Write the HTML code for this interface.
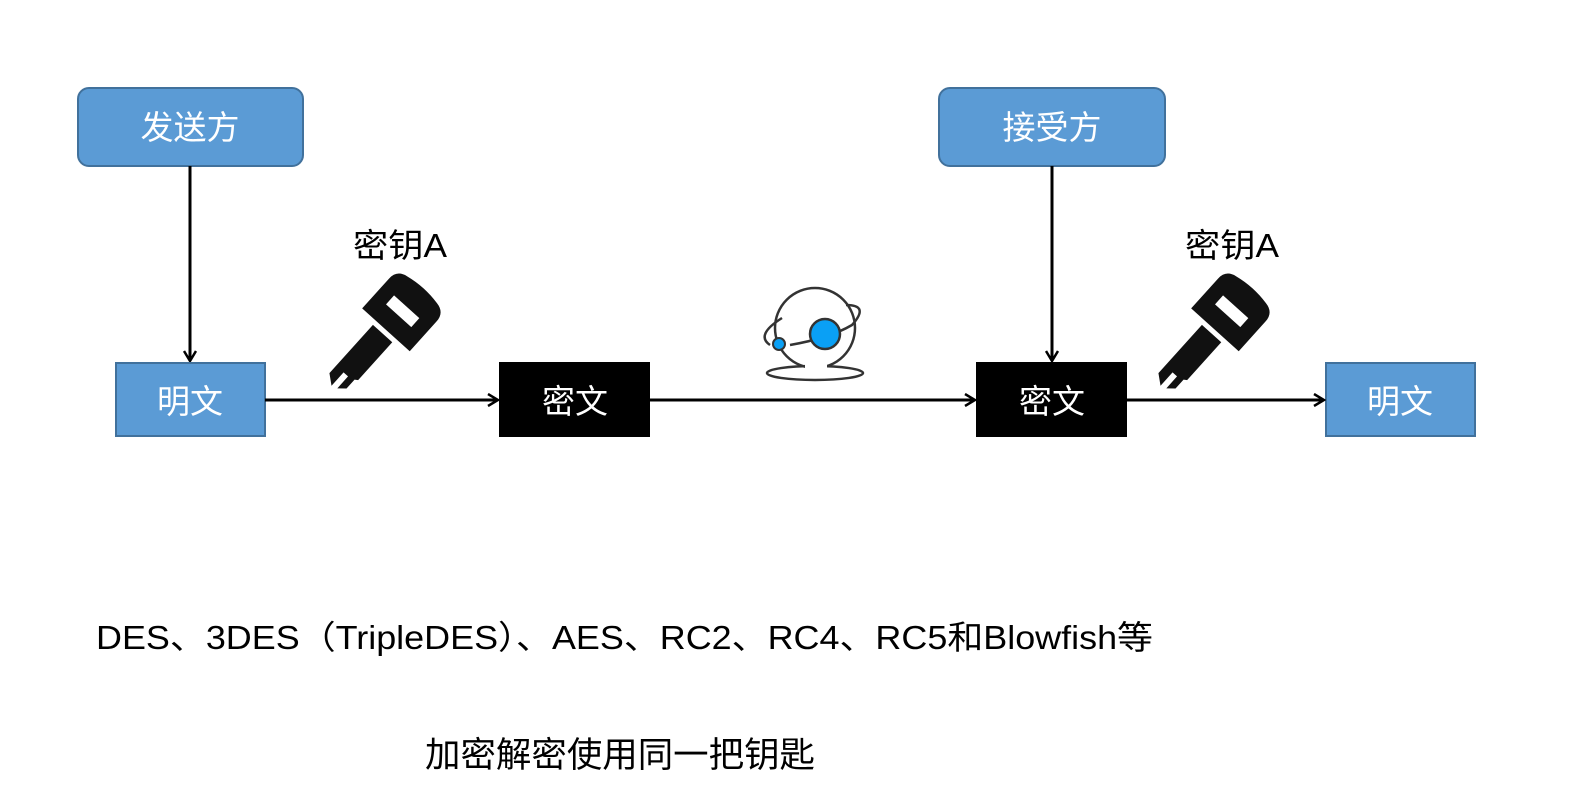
<!DOCTYPE html>
<html><head><meta charset="utf-8"><style>
html,body{margin:0;padding:0;background:#fff;overflow:hidden;width:1587px;height:808px;}
svg{display:block;}
svg text{font-family:"Liberation Sans","Noto Sans CJK SC",sans-serif;}
</style></head><body>
<svg width="1587" height="808" viewBox="0 0 1587 808" xmlns="http://www.w3.org/2000/svg">
<defs>
<g id="key">
  <path d="M-32,24 L-32,-16 Q-32,-28 -20,-30 Q0,-34 20,-30 Q32,-28 32,-16 L32,24 Z" fill="#111"/>
  <rect x="-17" y="-7" width="34" height="12" fill="#fff"/>
  <path d="M-13,29 L13,29 L13,80 L10,82 L10,94 L3,100 L3,84 L-3,84 L-3,102 L-13,94 Z" fill="#111"/>
</g>
<marker id="ah" markerWidth="14" markerHeight="14" refX="12" refY="7" orient="auto" markerUnits="userSpaceOnUse">
  <path d="M2,1 L12,7 L2,13" fill="none" stroke="#000" stroke-width="2.5"/>
</marker>
</defs>

<rect x="78" y="88" width="225" height="78" rx="11" fill="#5b9bd5" stroke="#41719c" stroke-width="2"/>
<text x="190" y="139" font-size="33" fill="#fff" text-anchor="middle">发送方</text>
<rect x="939" y="88" width="226" height="78" rx="11" fill="#5b9bd5" stroke="#41719c" stroke-width="2"/>
<text x="1052" y="139" font-size="33" fill="#fff" text-anchor="middle">接受方</text>

<line x1="190" y1="166" x2="190" y2="361" stroke="#000" stroke-width="3" marker-end="url(#ah)"/>
<line x1="1052" y1="166" x2="1052" y2="361" stroke="#000" stroke-width="3" marker-end="url(#ah)"/>

<rect x="116" y="363" width="149" height="73" fill="#5b9bd5" stroke="#41719c" stroke-width="2"/>
<text x="190" y="413" font-size="33" fill="#fff" text-anchor="middle">明文</text>
<rect x="499" y="362" width="151" height="75" fill="#000"/>
<text x="575" y="413" font-size="33" fill="#fff" text-anchor="middle">密文</text>
<rect x="976" y="362" width="151" height="75" fill="#000"/>
<text x="1052" y="413" font-size="33" fill="#fff" text-anchor="middle">密文</text>
<rect x="1326" y="363" width="149" height="73" fill="#5b9bd5" stroke="#41719c" stroke-width="2"/>
<text x="1400" y="413" font-size="33" fill="#fff" text-anchor="middle">明文</text>

<line x1="265" y1="400" x2="498" y2="400" stroke="#000" stroke-width="3" marker-end="url(#ah)"/>
<line x1="650" y1="400" x2="975" y2="400" stroke="#000" stroke-width="3" marker-end="url(#ah)"/>
<line x1="1127" y1="400" x2="1324" y2="400" stroke="#000" stroke-width="3" marker-end="url(#ah)"/>

<text x="353" y="257" font-size="33" fill="#000" textLength="94" lengthAdjust="spacingAndGlyphs">密钥A</text>
<text x="1185" y="257" font-size="33" fill="#000" textLength="94" lengthAdjust="spacingAndGlyphs">密钥A</text>
<use href="#key" transform="translate(402,312) rotate(42)"/>
<use href="#key" transform="translate(1231,312) rotate(42)"/>

<!-- globe -->
<g fill="none" stroke="#333" stroke-width="2.5">
  <circle cx="815" cy="328" r="40"/>
  <path d="M782,318 Q755,335 770,345"/>
  <path d="M846,305 Q870,305 852,325 Q830,338 790,345"/>
  <ellipse cx="815" cy="373" rx="48" ry="7"/>
</g>
<rect x="805" y="362" width="22" height="14" fill="#fff"/>
<circle cx="825" cy="334" r="15" fill="#0aa0f5" stroke="#333" stroke-width="2.5"/>
<circle cx="779" cy="344" r="6" fill="#0aa0f5" stroke="#333" stroke-width="2"/>

<text x="96" y="649" font-size="33" fill="#000" textLength="1057" lengthAdjust="spacingAndGlyphs">DES、3DES（TripleDES）、AES、RC2、RC4、RC5和Blowfish等</text>
<text x="425" y="767" font-size="35" fill="#000" textLength="390" lengthAdjust="spacingAndGlyphs">加密解密使用同一把钥匙</text>
</svg>
</body></html>
